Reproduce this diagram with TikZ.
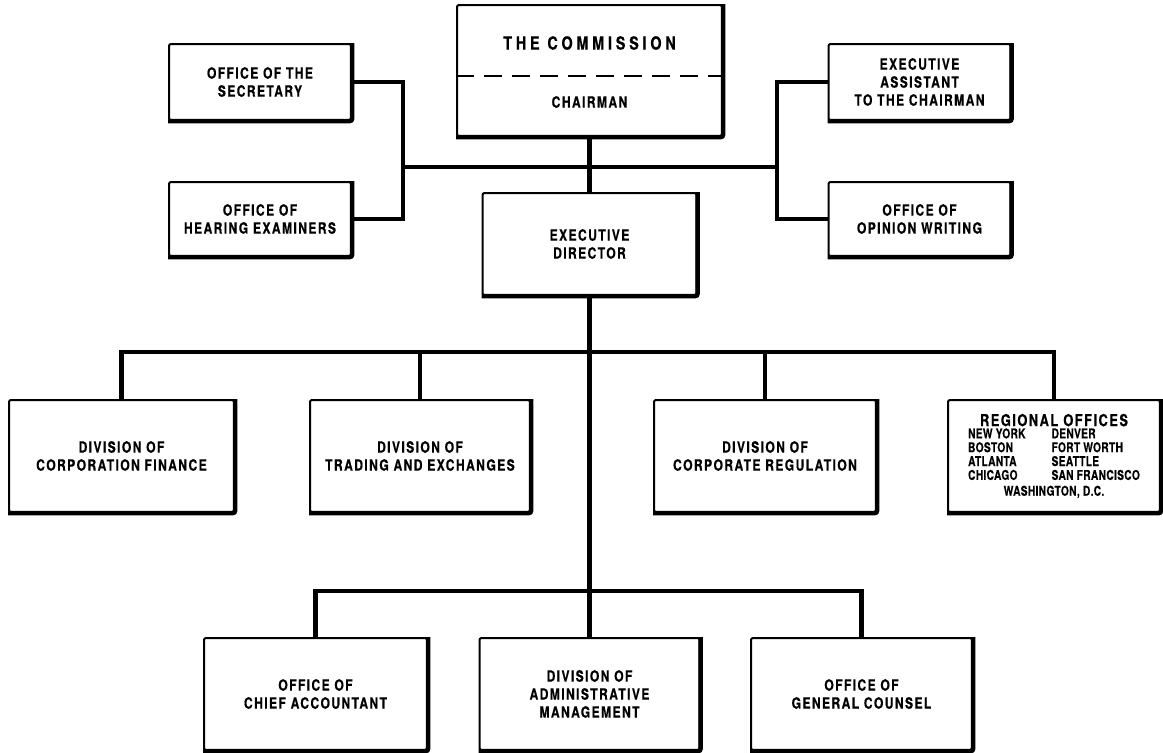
\documentclass[tikz,border=0pt]{standalone}
\usepackage{fontspec}
\newfontfamily\orgfont{texgyreheros-bold.otf}[FakeStretch=0.78,LetterSpace=9,FakeBold=0.4]
\newfontfamily\orgwidefont{texgyreheros-bold.otf}[FakeStretch=0.8,LetterSpace=21,FakeBold=0.4]
\newfontfamily\orgcityfont{texgyreheros-bold.otf}[FakeStretch=0.76,LetterSpace=2,FakeBold=0.3]
\begin{document}
\begin{tikzpicture}[x=1pt,y=-1pt,
			box/.style={draw, line width=2pt, rounded corners=2pt, align=center, inner sep=0pt, font=\orgfont\fontsize{15.5}{18}\selectfont},
			heavy/.style={line width=4.5pt, rounded corners=2pt},
			link/.style={line width=4.5pt},
			split/.style={line width=1.6pt, dash pattern=on 18pt off 10pt}
			]
			\fill[white] (0,0) rectangle (1163,753);
			\useasboundingbox (0,0) rectangle (1163,753);
			\node[box, minimum width=265pt, minimum height=131pt] (comm) at (589.5,70.5) {};
			\node[font=\orgwidefont\fontsize{18}{20}\selectfont] (commtitle) at (589.5,43) {THE COMMISSION};
			\node[font=\orgfont\fontsize{15.5}{18}\selectfont] (chair) at (589.5,102) {CHAIRMAN};
			\node[box, minimum width=182pt, minimum height=76pt] (sec) at (260,82) {OFFICE OF THE\\SECRETARY};
			\node[box, minimum width=182pt, minimum height=74pt] (hear) at (260,219) {OFFICE OF\\HEARING EXAMINERS};
			\node[box, minimum width=182pt, minimum height=76pt] (exa) at (919.5,82) {EXECUTIVE\\ASSISTANT\\TO THE CHAIRMAN};
			\node[box, minimum width=182pt, minimum height=74pt] (opin) at (919.5,219) {OFFICE OF\\OPINION WRITING};
			\node[box, minimum width=214pt, minimum height=102pt] (exd) at (589.5,244) {EXECUTIVE\\DIRECTOR};
			\node[box, minimum width=225pt, minimum height=112pt] (cf) at (121.5,456) {DIVISION OF\\CORPORATION FINANCE};
			\node[box, minimum width=220pt, minimum height=112pt] (te) at (420,456) {DIVISION OF\\TRADING AND EXCHANGES};
			\node[box, minimum width=222pt, minimum height=112pt] (cr) at (765,456) {DIVISION OF\\CORPORATE REGULATION};
			\node[box, minimum width=212pt, minimum height=112pt] (reg) at (1054,456) {{\fontsize{16.5}{17}\selectfont REGIONAL OFFICES}\\[1pt]
				{\orgcityfont\fontsize{13.5}{12.8}\selectfont\begin{tabular}{@{}l@{\hspace{26pt}}l@{}}NEW YORK & DENVER\\BOSTON & FORT WORTH\\ATLANTA & SEATTLE\\CHICAGO & SAN FRANCISCO\end{tabular}}\\[1pt]
				{\orgcityfont\fontsize{13.5}{12.8}\selectfont WASHINGTON, D.C.\hspace{30pt}}};
			\node[box, minimum width=223pt, minimum height=112pt] (ca) at (315.5,694) {OFFICE OF\\CHIEF ACCOUNTANT};
			\node[box, minimum width=220pt, minimum height=112pt] (am) at (589.5,694) {DIVISION OF\\ADMINISTRATIVE\\MANAGEMENT};
			\node[box, minimum width=221pt, minimum height=112pt] (gc) at (861.5,694) {OFFICE OF\\GENERAL COUNSEL};
			\foreach \n in {comm,sec,hear,exa,opin,exd,cf,te,cr,reg,ca,am,gc}
				\draw[heavy] (\n.north east) -- (\n.south east) -- (\n.south west);
			\draw[split] (comm.west |- 0,76) -- (comm.east |- 0,76);
			\coordinate (lj) at (403,167);
			\coordinate (rj) at (777,167);
			\coordinate (mid) at (589.5,352);
			\coordinate (low) at (589.5,591);
			\draw[link] (sec.east) -| (lj) |- (hear.east);
			\draw[link] (exa.west) -| (rj) |- (opin.west);
			\draw[link] (lj) -- (rj);
			\draw[link] (comm.south) -- (exd.north);
			\draw[link] (exd.south) -- (low);
			\draw[link] (cf.north) |- (mid) -| (reg.north);
			\draw[link] (te.north) -- (te.north |- mid);
			\draw[link] (cr.north) -- (cr.north |- mid);
			\draw[link] (ca.north) |- (low) -| (gc.north);
			\draw[link] (low) -- (am.north);
		\end{tikzpicture}
\end{document}
